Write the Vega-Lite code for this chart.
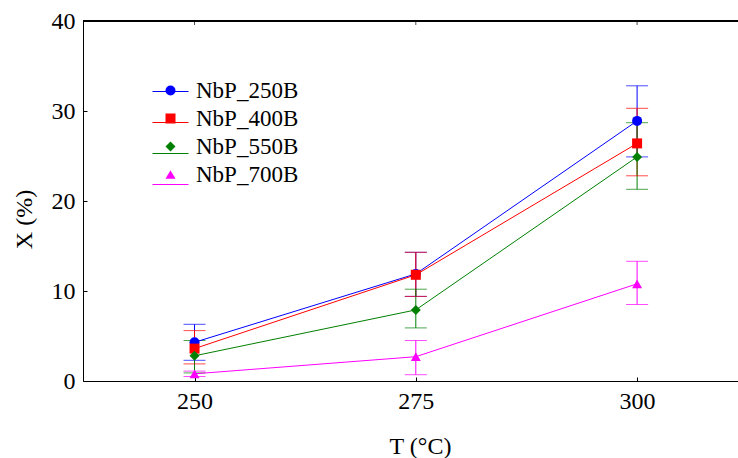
{
  "$schema": "https://vega.github.io/schema/vega-lite/v6.json",
  "width": 655,
  "height": 360,
  "autosize": {"type": "none"},
  "padding": {"left": 83, "top": 21, "right": 0, "bottom": 77},
  "background": "white",
  "config": {
    "view": {"stroke": null},
    "font": "Liberation Serif",
    "axis": {
      "grid": false,
      "domainColor": "black",
      "tickColor": "black",
      "labelColor": "black",
      "titleColor": "black",
      "labelFont": "Liberation Serif",
      "titleFont": "Liberation Serif",
      "labelFontSize": 24,
      "titleFontSize": 24,
      "titleFontWeight": "normal",
      "labelFontWeight": "normal",
      "tickSize": -4,
      "domainWidth": 1,
      "tickWidth": 1
    },
    "legend": {
      "labelFont": "Liberation Serif",
      "labelFontSize": 23,
      "labelColor": "black",
      "padding": 0,
      "orient": "none"
    }
  },
  "data": {
    "values": [
      {"T": 250, "series": "NbP_250B", "name": "NbP_250B", "X": 4.3, "lo": 2.3, "hi": 6.3},
      {"T": 275, "series": "NbP_250B", "name": "NbP_250B", "X": 11.9, "lo": 9.4, "hi": 14.3},
      {"T": 300, "series": "NbP_250B", "name": "NbP_250B", "X": 28.9, "lo": 24.9, "hi": 32.8},
      {"T": 250, "series": "NbP_400B", "name": "NbP_400B", "X": 3.6, "lo": 1.9, "hi": 5.6},
      {"T": 275, "series": "NbP_400B", "name": "NbP_400B", "X": 11.8, "lo": 9.4, "hi": 14.3},
      {"T": 300, "series": "NbP_400B", "name": "NbP_400B", "X": 26.4, "lo": 22.8, "hi": 30.3},
      {"T": 250, "series": "NbP_550B", "name": "NbP_550B", "X": 2.8, "lo": 0.9, "hi": 4.5},
      {"T": 275, "series": "NbP_550B", "name": "NbP_550B", "X": 7.9, "lo": 5.9, "hi": 10.2},
      {"T": 300, "series": "NbP_550B", "name": "NbP_550B", "X": 24.9, "lo": 21.3, "hi": 28.7},
      {"T": 250, "series": "NbP_700B", "name": "NbP_700B", "X": 0.8, "lo": 0.5, "hi": 1.1},
      {"T": 275, "series": "NbP_700B", "name": "NbP_700B", "X": 2.7, "lo": 0.7, "hi": 4.5},
      {"T": 300, "series": "NbP_700B", "name": "NbP_700B", "X": 10.8, "lo": 8.5, "hi": 13.3}
    ]
  },
  "layer": [
    {
      "mark": {"type": "rule", "strokeWidth": 1, "color": "black"},
      "encoding": {
        "y": {"datum": 40, "type": "quantitative"}
      }
    },
    {
      "data": {"values": [{"T": 250}, {"T": 275}, {"T": 300}]},
      "mark": {"type": "tick", "orient": "vertical", "size": 4, "thickness": 1, "color": "black", "yOffset": 2},
      "encoding": {
        "x": {"field": "T", "type": "quantitative"},
        "y": {"datum": 40, "type": "quantitative"}
      }
    },
    {
      "mark": {"type": "rule", "strokeWidth": 1},
      "encoding": {
        "x": {"field": "T", "type": "quantitative", "scale": {"domain": [237.4, 311.4], "nice": false, "zero": false}, "axis": {"orient": "bottom", "values": [250, 275, 300], "title": "T (°C)", "labelPadding": 12, "titleX": 337, "titleY": 72, "titleBaseline": "alphabetic"}},
        "y": {"field": "lo", "type": "quantitative", "scale": {"domain": [0, 40], "nice": false}, "axis": {"orient": "left", "values": [0, 10, 20, 30, 40], "title": "X (%)", "labelPadding": 12, "titlePadding": 15, "titleY": 198}},
        "y2": {"field": "hi"},
        "stroke": {"field": "series", "type": "nominal", "scale": {"domain": ["NbP_250B", "NbP_400B", "NbP_550B", "NbP_700B"], "range": ["#0000ff", "#ff0000", "#008000", "#ff00ff"]}, "legend": {"symbolType": "stroke", "symbolSize": 1296, "symbolStrokeWidth": 1, "labelExpr": "''", "title": null, "legendX": 69, "legendY": 52, "rowPadding": -1}}
      }
    },
    {
      "mark": {"type": "tick", "orient": "horizontal", "size": 22, "thickness": 1},
      "encoding": {
        "x": {"field": "T", "type": "quantitative"},
        "y": {"field": "lo", "type": "quantitative"},
        "color": {"field": "series", "type": "nominal", "scale": {"domain": ["NbP_250B", "NbP_400B", "NbP_550B", "NbP_700B"], "range": ["#0000ff", "#ff0000", "#008000", "#ff00ff"]}, "legend": null}
      }
    },
    {
      "mark": {"type": "tick", "orient": "horizontal", "size": 22, "thickness": 1},
      "encoding": {
        "x": {"field": "T", "type": "quantitative"},
        "y": {"field": "hi", "type": "quantitative"},
        "color": {"field": "series", "type": "nominal", "legend": null}
      }
    },
    {
      "mark": {"type": "line", "strokeWidth": 1},
      "encoding": {
        "x": {"field": "T", "type": "quantitative"},
        "y": {"field": "X", "type": "quantitative"},
        "stroke": {"field": "series", "type": "nominal"}
      }
    },
    {
      "mark": {"type": "point", "filled": true, "opacity": 1, "size": 100},
      "encoding": {
        "x": {"field": "T", "type": "quantitative"},
        "y": {"field": "X", "type": "quantitative"},
        "fill": {"field": "name", "type": "nominal", "scale": {"range": ["#0000ff", "#ff0000", "#008000", "#ff00ff"]}, "legend": {"title": null, "legendX": 76, "legendY": 58, "rowPadding": 4, "labelOffset": 14, "symbolSize": 100, "symbolStrokeWidth": 0}},
        "shape": {"field": "name", "type": "nominal", "scale": {"range": ["circle", "square", "diamond", "triangle-up"]}}
      }
    }
  ]
}
